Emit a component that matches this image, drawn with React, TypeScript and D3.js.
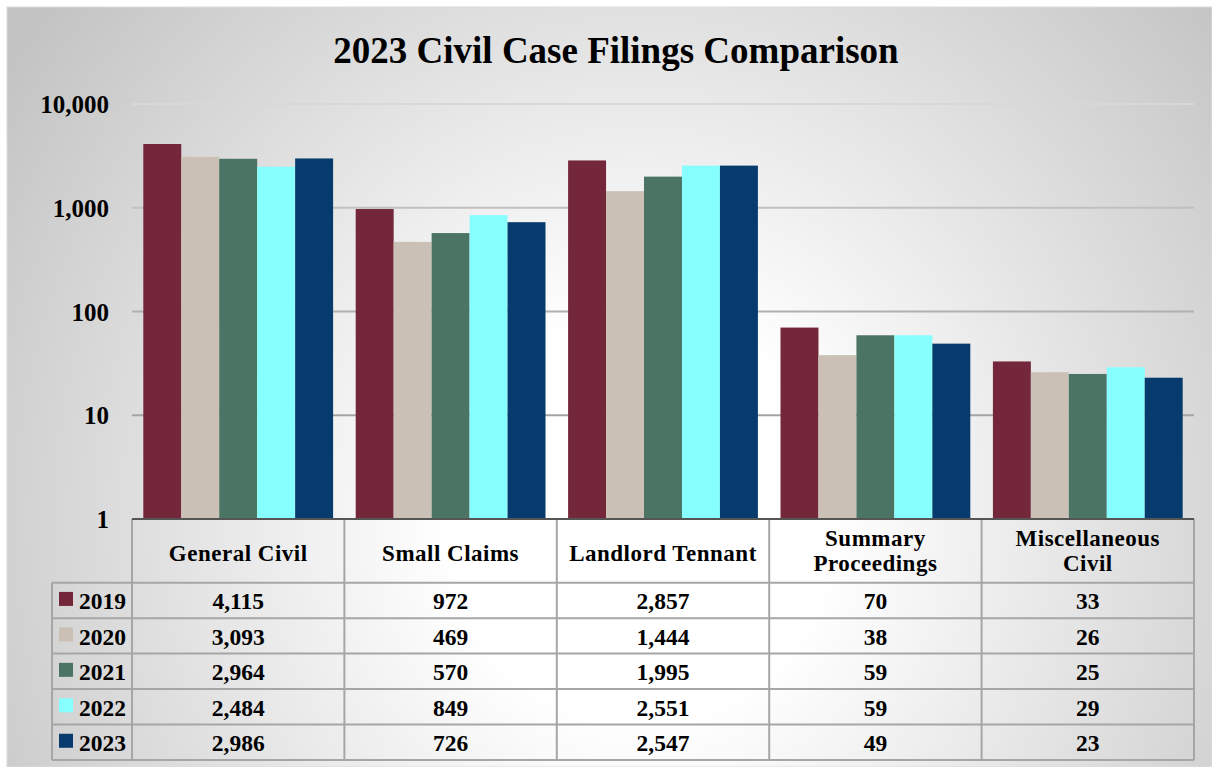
import React from "react";
import * as d3 from "d3";

const categories = ["General Civil", "Small Claims", "Landlord Tennant", "Summary Proceedings", "Miscellaneous Civil"];
const categoryLines = [["General Civil"], ["Small Claims"], ["Landlord Tennant"], ["Summary", "Proceedings"], ["Miscellaneous", "Civil"]];
const years = ["2019", "2020", "2021", "2022", "2023"];
const values2019 = [4115, 972, 2857, 70, 33];
const values2020 = [3093, 469, 1444, 38, 26];
const values2021 = [2964, 570, 1995, 59, 25];
const values2022 = [2484, 849, 2551, 59, 29];
const values2023 = [2986, 726, 2547, 49, 23];
const seriesValues = [values2019, values2020, values2021, values2022, values2023];
const seriesColors = ["#74263a", "#cac0b6", "#4b7464", "#88ffff", "#073b6d"];
const yTicks = [1, 10, 100, 1000, 10000];
const gridColors = ["#555555", "#a4a4a4", "#b0b0b0", "#c0c0c0", "#d8d8d8"];

const FONT = "'Liberation Serif', 'Times New Roman', serif";

export default function App() {
  const W = 1212, H = 767;
  const plotL = 132, plotR = 1194, plotT = 104, plotB = 519;
  const tableB = 760, headerB = 582.7, legendL = 52;

  const y = d3.scaleLog().domain([1, 10000]).range([plotB, plotT]);
  const x0 = d3.scaleBand<string>().domain(categories).range([plotL, plotR]);
  const bw = x0.bandwidth();
  const x1 = d3.scaleBand<string>().domain(years).range([11.3, bw - 11.3]);
  const rows = d3.scaleBand<string>().domain(years).range([headerB, tableB]);
  const fmt = d3.format(",");

  const lineColor = "#a6a6a6";

  return (
    <svg width={W} height={H} style={{ position: "absolute", left: 0, top: 0 }} fontFamily={FONT} fontWeight="bold">
      <defs>
        <radialGradient id="bg" gradientUnits="userSpaceOnUse" cx={640} cy={520} r={760}
          gradientTransform="translate(640,520) scale(1,1.05) translate(-640,-520)">
          <stop offset="0" stopColor="#ffffff" />
          <stop offset="0.25" stopColor="#ffffff" />
          <stop offset="1" stopColor="#c4c4c4" />
        </radialGradient>
      </defs>
      <rect x={7} y={7} width={W - 7} height={H - 7} fill="url(#bg)" stroke="#dcdcdc" strokeWidth={1} />

      <text x={616} y={63} textAnchor="middle" fontSize={37} fill="#000">2023 Civil Case Filings Comparison</text>

      {/* gridlines */}
      {yTicks.map((t, i) =>
        i === 0 ? null : (
          <line key={"g" + t} x1={plotL} x2={plotR} y1={y(t)} y2={y(t)} stroke={gridColors[i]} strokeWidth={2} />
        )
      )}
      {/* y labels */}
      {yTicks.map((t) => (
        <text key={"yl" + t} x={109} y={y(t) + 9} textAnchor="end" fontSize={25} fill="#000">{fmt(t)}</text>
      ))}

      {/* bars */}
      {categories.map((c, ci) => (
        <g key={c} transform={`translate(${x0(c)},0)`}>
          {years.map((yr, si) => {
            const v = seriesValues[si][ci];
            return (
              <rect key={yr} x={x1(yr)} y={y(v)} width={x1.bandwidth()} height={plotB - y(v)} fill={seriesColors[si]} />
            );
          })}
        </g>
      ))}

      {/* table lines */}
      {categories.map((c) => (
        <line key={"v" + c} x1={x0(c)} x2={x0(c)} y1={plotB} y2={tableB} stroke={lineColor} strokeWidth={2} />
      ))}
      <line x1={plotR} x2={plotR} y1={plotB} y2={tableB} stroke={lineColor} strokeWidth={2} />
      <line x1={legendL} x2={legendL} y1={headerB} y2={tableB} stroke={lineColor} strokeWidth={2} />
      {years.map((yr) => (
        <line key={"h" + yr} x1={legendL} x2={plotR} y1={rows(yr)} y2={rows(yr)} stroke={lineColor} strokeWidth={2} />
      ))}
      <line x1={legendL} x2={plotR} y1={tableB} y2={tableB} stroke={lineColor} strokeWidth={2} />

      {/* axis line */}
      <line x1={plotL} x2={plotR} y1={plotB} y2={plotB} stroke="#555555" strokeWidth={2} />

      {/* header labels */}
      {categories.map((c, ci) => {
        const lines = categoryLines[ci];
        const cx = (x0(c) as number) + bw / 2;
        const base = lines.length === 1 ? [561] : [546, 571];
        return lines.map((ln, li) => (
          <text key={c + li} x={cx} y={base[li]} textAnchor="middle" fontSize={23} letterSpacing={0.5} fill="#000">{ln}</text>
        ));
      })}

      {/* legend column + values */}
      {years.map((yr, si) => {
        const cy = (rows(yr) as number) + rows.bandwidth() / 2;
        return (
          <g key={"row" + yr}>
            <rect x={59} y={cy - 8.5} width={14} height={14} fill={seriesColors[si]} />
            <text x={79} y={cy + 9} fontSize={23.5} fill="#000">{yr}</text>
            {categories.map((c, ci) => (
              <text key={c} x={(x0(c) as number) + bw / 2} y={cy + 9} textAnchor="middle" fontSize={23.5} fill="#000">
                {fmt(seriesValues[si][ci])}
              </text>
            ))}
          </g>
        );
      })}
    </svg>
  );
}
